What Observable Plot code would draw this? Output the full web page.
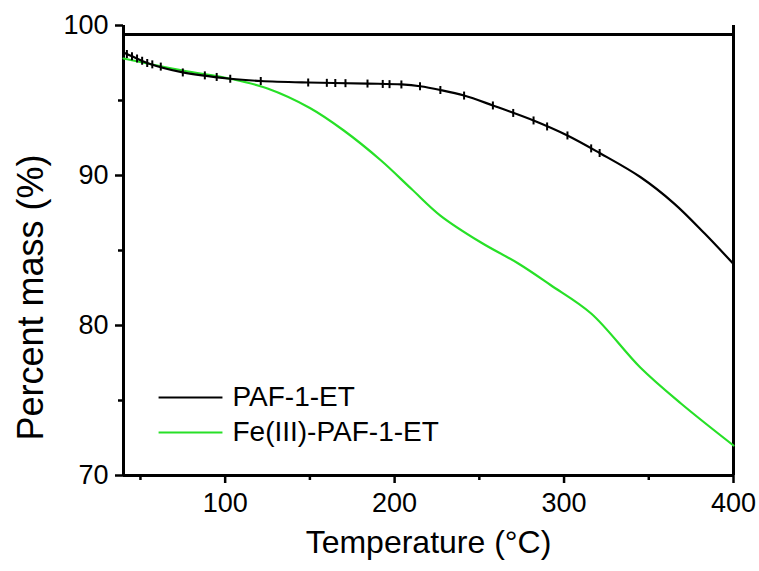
<!DOCTYPE html>
<html><head><meta charset="utf-8">
<script src="https://cdn.jsdelivr.net/npm/d3@7"></script>
<script src="https://cdn.jsdelivr.net/npm/@observablehq/plot@0.6"></script>
<style>
body{margin:0;background:#fff;}
svg{font-family:"Liberation Sans",Arial,sans-serif;}
</style></head><body>
<div id="chart"></div>
<script>
// PAF-1-ET (black)
const pafT = [40, 45, 54, 75, 103, 121, 149, 184, 204, 215, 227, 241, 258, 282, 302, 321, 345, 365, 383, 400];
const pafM = [98.2, 97.95, 97.5, 96.87, 96.45, 96.3, 96.2, 96.13, 96.07, 95.95, 95.7, 95.33, 94.67, 93.67, 92.67, 91.5, 89.9, 88.13, 86.13, 84.1];
// Fe(III)-PAF-1-ET (green)
const feT = [40, 75, 103, 125, 150, 170, 192, 210, 227, 251, 273, 292, 316, 345, 369, 400];
const feM = [97.8, 97.0, 96.45, 95.8, 94.5, 93.0, 91.0, 89.1, 87.33, 85.53, 84.13, 82.7, 80.8, 77.2, 74.8, 72.0];
// marker positions on black curve
const markT = [42, 45, 48, 51, 54, 57, 62, 75, 88, 95, 103, 121, 149, 160, 165, 171, 184, 193, 197, 204, 215, 227, 241, 258, 270, 282, 290, 302, 316, 321];
const seriesNames = ["PAF-1-ET", "Fe(III)-PAF-1-ET"];
const xMajor = [100, 200, 300, 400];
const xMinor = [50, 150, 250, 350];
const yMajor = [70, 80, 90, 100];
const yMinor = [75, 85, 95];
const xTitle = "Temperature (°C)";
const yTitle = "Percent mass (%)";

const paf = pafT.map((t, i) => ({T: t, M: pafM[i]}));
const fe = feT.map((t, i) => ({T: t, M: feM[i]}));
const interp = d3.scaleLinear().domain(pafT).range(pafM);
const marks = markT.map(t => ({T: t, M: interp(t)}));
const vtick = {draw(ctx, size) { ctx.moveTo(0, -4); ctx.lineTo(0, 4); }};
const legend = seriesNames.map((n, i) => ({name: n, i}));
const green = "#27e027";
const legY = i => 75.2 - i * 2.33;

const chart = Plot.plot({
  width: 759, height: 571,
  marginLeft: 123, marginRight: 26, marginTop: 25, marginBottom: 96,
  style: {fontFamily: "'Liberation Sans', Arial, sans-serif", background: "#fff", color: "black"},
  x: {domain: [40, 400]},
  y: {domain: [70, 100]},
  marks: [
    Plot.axisX(xMajor, {tickSize: 8, tickFormat: () => "", label: null, strokeWidth: 2.5}),
    Plot.axisX(xMinor, {tickSize: 5, tickFormat: () => "", label: null, strokeWidth: 2.5}),
    Plot.axisY(yMajor, {tickSize: 8, tickFormat: () => "", label: null, strokeWidth: 2.5}),
    Plot.axisY(yMinor, {tickSize: 5, tickFormat: () => "", label: null, strokeWidth: 2.5}),
    Plot.text(xMajor, {x: d => d, frameAnchor: "bottom", textAnchor: "middle", lineAnchor: "middle", dy: 28, fontSize: 27, fill: "black"}),
    Plot.text(yMajor, {y: d => d, frameAnchor: "left", textAnchor: "end", lineAnchor: "middle", dx: -15, fontSize: 27, fill: "black"}),
    Plot.ruleY([70], {strokeWidth: 3}),
    Plot.ruleX([40, 400], {y1: 70, y2: 100, strokeWidth: 3}),
    Plot.ruleY([99.4], {strokeWidth: 3}),
    Plot.line(fe, {x: "T", y: "M", stroke: green, strokeWidth: 2.2, curve: "catmull-rom"}),
    Plot.line(paf, {x: "T", y: "M", stroke: "black", strokeWidth: 2.2, curve: "catmull-rom"}),
    Plot.dot(marks, {x: "T", y: "M", symbol: vtick, r: 3, stroke: "black", strokeWidth: 2}),
    // legend
    Plot.link(legend, {x1: () => 60.7, x2: () => 98.4, y1: d => legY(d.i), y2: d => legY(d.i), stroke: d => d.i === 0 ? "black" : green, strokeWidth: 2}),
    Plot.text(legend, {x: () => 104.3, y: d => legY(d.i), text: "name", textAnchor: "start", fontSize: 28, fill: "black"}),
    // axis titles
    Plot.text([xTitle], {frameAnchor: "bottom", textAnchor: "middle", dy: 77, fontSize: 32, fill: "black"}),
    Plot.text([yTitle], {frameAnchor: "left", textAnchor: "middle", dx: -92, dy: 47, rotate: -90, fontSize: 36, fill: "black"})
  ]
});
document.getElementById("chart").appendChild(chart);
</script>
</body></html>
